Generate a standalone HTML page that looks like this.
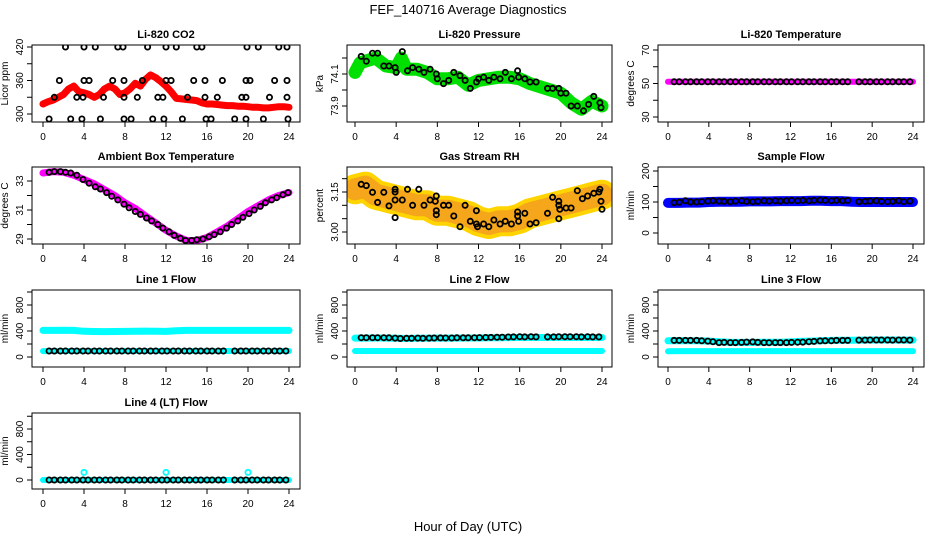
<!DOCTYPE html>
<html><head><meta charset="utf-8"><title>FEF_140716 Average Diagnostics</title>
<style>
html,body{margin:0;padding:0;background:#fff;}
svg{display:block;font-family:"Liberation Sans",Arial,sans-serif;}
.t{font-weight:bold;font-size:11px;}
.tk{font-size:10px;}
</style></head><body>
<svg id="chart" width="936" height="540" viewBox="0 0 936 540" xmlns="http://www.w3.org/2000/svg">
<text x="468" y="14" text-anchor="middle" font-size="13">FEF_140716  Average Diagnostics</text>
<text x="468" y="531" text-anchor="middle" font-size="13">Hour of Day (UTC)</text>
</svg>
<script>
// ---- data ----
const xTicks = [0,4,8,12,16,20,24];
const hourlyH = [0,1,2,3,4,5,6,7,8,9,10,11,12,13,14,15,16,17,18,19,20,21,22,23,24];
const co2H = [0,0.5,1,1.5,2,2.5,3,3.5,4,4.5,5,5.5,6,6.5,7,7.5,8,8.5,9,9.5,10,10.5,11,11.5,12,12.5,13,13.5,14,14.5,15,15.5,16,16.5,17,17.5,18,18.5,19,19.5,20,20.5,21,21.5,22,22.5,23,23.5,24];
const co2Red = [318,322,325,330,335,345,350,340,338,335,330,335,345,350,345,335,338,345,355,350,362,370,365,358,350,340,328,327,326,325,324,320,318,318,317,316,315,315,314,314,313,312,312,311,311,312,313,313,312];
const co2BlkH = [2.2,4,5.1,7.3,7.8,10.2,12,13,15,15.5,19.9,21,23,23.8, 1.6,4,4.5,6.8,7.9,9.7,12,12.5,14.7,15.8,17.5,19.8,20.2,22.6,23.8, 1.1,3.3,3.9,5.9,7.9,9.2,11.2,11.7,14.1,15.8,17,19.4,19.8,22.1,23.8, 0.6,2.7,3.8,5.6,7.9,8.6,10.7,11.8,13.6,15.9,16.4,18.7,19.8,21.5,23.9];
const co2BlkV = [420,420,420,420,420,420,420,420,420,420,420,420,420,420, 360,360,360,360,360,360,360,360,360,360,360,360,360,360,360, 330,330,330,330,330,330,330,330,330,330,330,330,330,330,330, 291,291,291,291,291,291,291,291,291,291,291,291,291,291,291];
const presH = [0,0.5,1,2,3,4,4.5,5,6,7,8,9,10,11,12,13,14,15,16,17,18,19,20,21,22,23,24];
const presGreen = [74.11,74.17,74.18,74.2,74.15,74.14,74.2,74.13,74.13,74.11,74.07,74.07,74.08,74.03,74.06,74.07,74.08,74.08,74.07,74.04,74.02,74.0,73.98,73.92,73.88,73.93,73.9];
const presBlkH = [0.6,1.1,1.7,2.2,2.8,3.3,3.9,4,4.6,5.1,5.6,6.2,6.7,7.3,7.9,8,8.6,9.1,9.6,10.2,10.7,11.2,11.8,12,12.5,13,13.5,14.1,14.6,15.2,15.8,15.9,16.5,17,17.6,18.7,19.2,19.8,20,20.5,21,21.6,22.2,22.7,23.2,23.8,23.9];
const presBlkV = [74.21,74.18,74.23,74.23,74.15,74.15,74.14,74.11,74.24,74.12,74.14,74.13,74.11,74.13,74.10,74.07,74.04,74.06,74.11,74.09,74.06,74.01,74.05,74.07,74.08,74.06,74.08,74.07,74.11,74.07,74.12,74.08,74.07,74.05,74.05,74.01,74.01,74.01,73.98,73.98,73.90,73.90,73.87,73.91,73.96,73.92,73.89];
const tempMag = [51,51,51,51,51,51,51,51,51,51,51,51,51,51,51,51,51,51,51,51,51,51,51,51,51];
const flowH = [0.6,1.1,1.7,2.2,2.8,3.3,3.9,4.4,5.0,5.5,6.1,6.6,7.2,7.7,8.3,8.8,9.4,9.9,10.5,11.0,11.6,12.1,12.7,13.2,13.8,14.3,14.9,15.4,16.0,16.5,17.1,17.6,18.7,19.3,19.8,20.4,20.9,21.5,22.0,22.6,23.1,23.7];
const tempBlk = [51,51,51,51,51,51,51,51,51,51,51,51,51,51,51,51,51,51,51,51,51,51,51,51,51,51,51,51,51,51,51,51,51,51,51,51,51,51,51,51,51,51];
const ambMag = [33.55,33.65,33.6,33.4,33.1,32.8,32.4,32.0,31.5,31.1,30.6,30.1,29.6,29.2,28.9,28.9,29.1,29.5,29.9,30.4,30.9,31.3,31.7,32.0,32.2];
const ambBlkH = [0.6,1.1,1.7,2.2,2.7,3.3,3.9,4.5,5.1,5.6,6.2,6.7,7.3,7.9,8.4,9,9.5,10.1,10.6,11.2,11.7,12.3,12.8,13.4,13.9,14.5,15,15.6,16.2,16.7,17.3,17.9,18.4,19,19.5,20.1,20.6,21.2,21.7,22.3,22.8,23.4,23.9];
const ambBlkV = [33.6,33.65,33.65,33.6,33.55,33.4,33.1,32.85,32.6,32.45,32.2,31.95,31.7,31.4,31.15,30.9,30.7,30.45,30.25,30.0,29.75,29.5,29.25,29.05,28.9,28.9,28.95,29.0,29.15,29.3,29.5,29.75,30.0,30.25,30.5,30.75,31.0,31.25,31.5,31.7,31.85,32.05,32.2];
const rhOrange = [3.16,3.17,3.14,3.13,3.12,3.11,3.10,3.10,3.08,3.08,3.07,3.06,3.04,3.03,3.04,3.04,3.05,3.07,3.08,3.09,3.10,3.11,3.12,3.13,3.14];
const rhBlkH = [0.6,1.1,1.7,2.2,2.8,3.3,3.9,3.9,3.9,3.9,4.6,5.1,5.6,6.2,6.7,7.3,7.8,7.9,7.9,7.9,8.6,9.1,9.6,10.2,10.7,11.2,11.8,11.8,11.9,12.5,13,13.5,14.1,14.6,15.2,15.8,15.8,15.9,16.5,17,17.6,18.7,19.2,19.8,19.8,19.9,19.8,20.5,21,21.6,22.1,22.6,23.2,23.7,23.8,23.9,24];
const rhBlkV = [3.179,3.174,3.149,3.111,3.149,3.098,3.16,3.15,3.12,3.054,3.12,3.16,3.10,3.16,3.10,3.12,3.115,3.135,3.08,3.065,3.10,3.10,3.06,3.02,3.10,3.04,3.08,3.03,3.02,3.03,3.02,3.045,3.03,3.04,3.03,3.075,3.06,3.04,3.07,3.03,3.035,3.07,3.13,3.115,3.10,3.085,3.05,3.09,3.09,3.155,3.125,3.135,3.145,3.15,3.16,3.115,3.085];
const sampBlue = [97,97,98,98,100,101,101,101,102,102,102,103,103,103,104,104,103,103,101,100,100,100,100,100,100];
const sampBlk = [98,99,104,100,100,101,103,104,103,102,101,103,104,102,101,102,104,103,104,103,104,105,104,105,104,105,106,105,104,105,104,105,101,102,103,104,102,101,102,104,101,103];
const l1CyanHi = [410,410,412,410,395,392,390,392,394,395,398,396,394,405,410,410,410,410,410,410,410,410,410,410,410];
const l1CyanLo = [90,92,92,92,92,92,92,92,92,92,92,92,92,92,92,92,92,92,92,92,92,92,92,92,92];
const l1Blk = [92,92,92,92,92,92,92,92,92,92,92,92,92,92,92,92,92,92,92,92,92,92,92,92,92,92,92,92,92,92,92,92,92,92,92,92,92,92,92,92,92,92];
const l2CyanHi = [290,290,292,290,288,285,288,288,290,290,290,292,292,295,296,298,300,300,300,300,300,300,300,300,300];
const l2CyanLo = [92,92,92,92,92,92,92,92,92,92,92,92,92,92,92,92,92,92,92,92,92,92,92,92,92];
const l2Blk = [297,297,297,297,297,295,290,285,287,288,290,288,290,292,294,292,293,295,295,296,297,298,300,302,303,305,308,310,312,310,312,310,310,310,312,312,312,312,310,312,310,310];
const l3CyanHi = [250,252,250,250,245,235,228,225,225,228,228,228,232,240,245,250,255,258,258,260,262,262,262,260,260];
const l3CyanLo = [88,90,90,90,90,90,90,90,90,90,90,90,90,90,90,90,90,90,90,90,90,90,90,90,90];
const l3Blk = [255,255,255,255,255,250,245,235,222,225,222,222,225,230,232,225,222,220,222,222,222,225,228,230,235,240,248,250,250,255,255,256,260,260,262,262,262,262,260,262,262,260];
const l4Cyan = [0,0,0,0,0,0,0,0,0,0,0,0,0,0,0,0,0,0,0,0,0,0,0,0,0];
const l4Blk = [0,0,0,0,0,0,0,0,0,0,0,0,0,0,0,0,0,0,0,0,0,0,0,0,0,0,0,0,0,0,0,0,0,0,0,0,0,0,0,0,0,0];
const l4SpikeH = [4,12,20];
const l4SpikeV = [120,120,120];

// ---- layout ----
const NS = 'http://www.w3.org/2000/svg';
const svg = document.getElementById('chart');
const cols = [{x0:43,x24:289,L:32,R:300},{x0:355,x24:602,L:347,R:612},{x0:668,x24:913,L:658,R:924}];
const rows = [{T:45,B:122},{T:167,B:244},{T:290,B:367},{T:413,B:489}];
function mk(tag, attrs, parent){const e=document.createElementNS(NS,tag);for(const k in attrs)e.setAttribute(k,attrs[k]);(parent||svg).appendChild(e);return e;}

function panel(cfg){
  const c=cols[cfg.col], r=rows[cfg.row];
  const g=mk('g',{});
  
  
  const xs=h=>c.x0+(c.x24-c.x0)*h/24;
  const ys=v=>cfg.p1+(v-cfg.v1)*(cfg.p2-cfg.p1)/(cfg.v2-cfg.v1);
  const clip='clip'+cfg.name;
  const cp=mk('clipPath',{id:clip},g);mk('rect',{x:c.L,y:r.T,width:c.R-c.L,height:r.B-r.T},cp);
  const data=mk('g',{'clip-path':'url(#'+clip+')'},g);
  
  
  (cfg.bands||[]).forEach(b=>{
    const pts=b.h.map((h,i)=>xs(h).toFixed(1)+','+ys(b.v[i]).toFixed(1)).join(' ');
    const pl=mk('polyline',{points:pts,fill:'none',stroke:b.color,'stroke-width':b.w,'stroke-linecap':'round','stroke-linejoin':'round',opacity:b.op||1},data);
    
    
  });
  (cfg.pts||[]).forEach(s=>{
    s.h.forEach((h,i)=>{
      const ci=mk('circle',{cx:xs(h).toFixed(1),cy:ys(s.v[i]).toFixed(1),r:2.6,fill:'none',stroke:s.color,'stroke-width':1.8},data);
      
      
    });
  });
  const box=mk('rect',{x:c.L,y:r.T,width:c.R-c.L,height:r.B-r.T,fill:'none',stroke:'#000','stroke-width':1},g);
  
  
  xTicks.forEach(t=>{
    const x=xs(t);
    mk('line',{x1:x,x2:x,y1:r.B,y2:r.B+5,stroke:'#000'},g);
    const tx=mk('text',{x:x,y:r.B+18,'text-anchor':'middle',class:'tk'},g);tx.textContent=t;
    
    
  });
  cfg.ticks.forEach(t=>{
    const y=ys(t);
    mk('line',{x1:c.L-5,x2:c.L,y1:y,y2:y,stroke:'#000'},g);
  });
  cfg.labels.forEach(t=>{
    const y=ys(+t);
    const tx=mk('text',{x:c.L-9,y:y,'text-anchor':'middle',class:'tk',transform:'rotate(-90 '+(c.L-9)+' '+y+')'},g);tx.textContent=t;
    
    
  });
  const ym=(r.T+r.B)/2, yl=c.L-24;
  const yt=mk('text',{x:yl,y:ym,'text-anchor':'middle','font-size':'10',transform:'rotate(-90 '+yl+' '+ym+')'},g);yt.textContent=cfg.ylab;
  
  
  const tt=mk('text',{x:(c.L+c.R)/2,y:r.T-7,'text-anchor':'middle',class:'t'},g);tt.textContent=cfg.title;
  
  
}

const flowTicks=[0,200,400,600,800,1000], flowLabels=['0','400','800'];
panel({name:'co2-panel',col:0,row:0,title:'Li-820 CO2',ylab:'Licor ppm',v1:420,p1:47,v2:300,p2:114,ticks:[300,330,360,390,420],labels:['300','360','420'],
  bands:[{name:'co2-red-series',h:co2H,v:co2Red,color:'#f00',w:7}],
  pts:[{name:'co2-black-point',h:co2BlkH,v:co2BlkV,color:'#000'}]});
panel({name:'pressure-panel',col:1,row:0,title:'Li-820 Pressure',ylab:'kPa',v1:74.1,p1:74,v2:73.9,p2:106,ticks:[73.9,74.0,74.1,74.2],labels:['73.9','74.1'],
  bands:[{name:'pressure-green-series',h:presH,v:presGreen,color:'#00e000',w:13}],
  pts:[{name:'pressure-black-point',h:presBlkH,v:presBlkV,color:'#000'}]});
panel({name:'li820-temp-panel',col:2,row:0,title:'Li-820 Temperature',ylab:'degrees C',v1:70,p1:50,v2:30,p2:117,ticks:[30,40,50,60,70],labels:['30','50','70'],
  bands:[{name:'temp-magenta-series',h:hourlyH,v:tempMag,color:'#f0f',w:6}],
  pts:[{name:'temp-black-point',h:flowH,v:tempBlk,color:'#000'}]});
panel({name:'ambient-panel',col:0,row:1,title:'Ambient Box Temperature',ylab:'degrees C',v1:33,p1:181,v2:29,p2:239,ticks:[29,30,31,32,33],labels:['29','31','33'],
  bands:[{name:'ambient-magenta-series',h:hourlyH,v:ambMag,color:'#f0f',w:7}],
  pts:[{name:'ambient-black-point',h:ambBlkH,v:ambBlkV,color:'#000'}]});
panel({name:'rh-panel',col:1,row:1,title:'Gas Stream RH',ylab:'percent',v1:3.15,p1:192,v2:3.0,p2:232,ticks:[3.0,3.05,3.1,3.15,3.2],labels:['3.00','3.15'],
  bands:[{name:'rh-yellow-series',h:hourlyH,v:rhOrange,color:'#ffd400',w:30},{name:'rh-orange-series',h:hourlyH,v:rhOrange,color:'#f39a20',w:22,op:0.8}],
  pts:[{name:'rh-black-point',h:rhBlkH,v:rhBlkV,color:'#000'}]});
panel({name:'sample-flow-panel',col:2,row:1,title:'Sample Flow',ylab:'ml/min',v1:200,p1:171,v2:0,p2:233,ticks:[0,50,100,150,200],labels:['0','100','200'],
  bands:[{name:'sample-blue-series',h:hourlyH,v:sampBlue,color:'#00f',w:10}],
  pts:[{name:'sample-black-point',h:flowH,v:sampBlk,color:'#000'}]});
panel({name:'line1-panel',col:0,row:2,title:'Line 1 Flow',ylab:'ml/min',v1:800,p1:305,v2:0,p2:357,ticks:flowTicks,labels:flowLabels,
  bands:[{name:'line1-cyan-high',h:hourlyH,v:l1CyanHi,color:'#0ff',w:7},{name:'line1-cyan-low',h:hourlyH,v:l1CyanLo,color:'#0ff',w:6}],
  pts:[{name:'line1-black-point',h:flowH,v:l1Blk,color:'#000'}]});
panel({name:'line2-panel',col:1,row:2,title:'Line 2 Flow',ylab:'ml/min',v1:800,p1:305,v2:0,p2:357,ticks:flowTicks,labels:flowLabels,
  bands:[{name:'line2-cyan-high',h:hourlyH,v:l2CyanHi,color:'#0ff',w:7},{name:'line2-cyan-low',h:hourlyH,v:l2CyanLo,color:'#0ff',w:6}],
  pts:[{name:'line2-black-point',h:flowH,v:l2Blk,color:'#000'}]});
panel({name:'line3-panel',col:2,row:2,title:'Line 3 Flow',ylab:'ml/min',v1:800,p1:305,v2:0,p2:357,ticks:flowTicks,labels:flowLabels,
  bands:[{name:'line3-cyan-high',h:hourlyH,v:l3CyanHi,color:'#0ff',w:7},{name:'line3-cyan-low',h:hourlyH,v:l3CyanLo,color:'#0ff',w:6}],
  pts:[{name:'line3-black-point',h:flowH,v:l3Blk,color:'#000'}]});
panel({name:'line4-panel',col:0,row:3,title:'Line 4 (LT) Flow',ylab:'ml/min',v1:800,p1:429,v2:0,p2:480,ticks:flowTicks,labels:flowLabels,
  bands:[{name:'line4-cyan-series',h:hourlyH,v:l4Cyan,color:'#0ff',w:6}],
  pts:[{name:'line4-black-point',h:flowH,v:l4Blk,color:'#000'},{name:'line4-cyan-spike',h:l4SpikeH,v:l4SpikeV,color:'#0ff'}]});
</script>
</body></html>
